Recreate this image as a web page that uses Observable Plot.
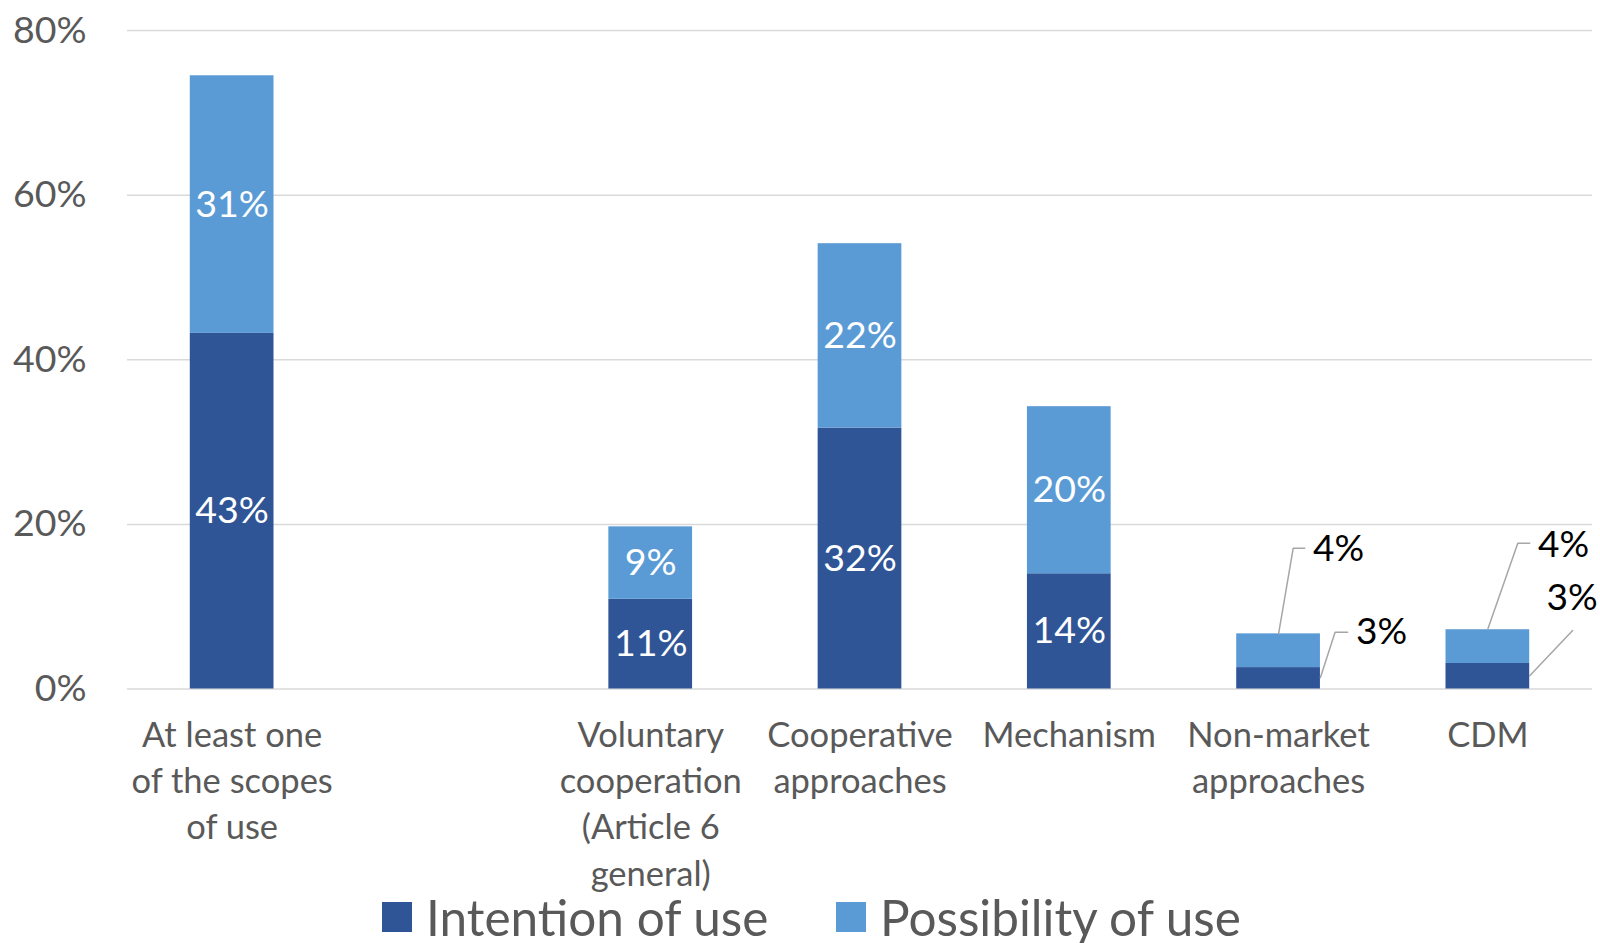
<!DOCTYPE html>
<html><head><meta charset="utf-8">
<script src="https://cdn.jsdelivr.net/npm/d3@7"></script>
<script src="https://cdn.jsdelivr.net/npm/@observablehq/plot@0.6"></script>
<style>
html,body{margin:0;padding:0;background:#fff;}
#wrap{position:relative;width:1600px;height:943px;overflow:hidden;background:#fff;}
#wrap svg{position:absolute;left:0;top:0;}
.item{position:absolute;top:896px;display:flex;align-items:center;white-space:nowrap;font-family:Lato,sans-serif;font-size:49.5px;color:#595959;line-height:42px;}
.sw{width:30px;height:30px;margin-right:14px;flex:none;}
</style></head><body><div id="wrap"></div>
<script>
const categories = ["At least one\nof the scopes\nof use", "", "Voluntary\ncooperation\n(Article 6\ngeneral)", "Cooperative\napproaches", "Mechanism", "Non-market\napproaches", "CDM"];
const seriesNames = ["Intention of use", "Possibility of use"];
const seriesColors = ["#2F5597", "#5B9BD5"];
const intention = [43.2, null, 10.9, 31.7, 14.0, 2.6, 3.1];
const possibility = [31.3, null, 8.8, 22.4, 20.3, 4.1, 4.1];
const intentionLabels = ["43%", null, "11%", "32%", "14%", "3%", "3%"];
const possibilityLabels = ["31%", null, "9%", "22%", "20%", "4%", "4%"];
const labelInside = [true, false, true, true, true, false, false];
const yTicks = [0, 20, 40, 60, 80];

// callouts for the small bars (data coordinates: x = category index, y = percent)
const calloutLines = [
  {id: "nm-p", pts: [[5, 6.7], [5.07, 17.1], [5.125, 17.1]]},
  {id: "nm-i", pts: [[5.2, 1.4], [5.27, 6.9], [5.33, 6.9]]},
  {id: "cdm-p", pts: [[6, 7.3], [6.143, 17.7], [6.2, 17.7]]},
  {id: "cdm-i", pts: [[6.2, 1.6], [6.405, 7.1]]}
];
const calloutLabels = [
  {x: 5.165, y: 17.0, text: possibilityLabels[5]},
  {x: 5.37, y: 6.9, text: intentionLabels[5]},
  {x: 6.24, y: 17.5, text: possibilityLabels[6]},
  {x: 6.28, y: 11.0, text: intentionLabels[6]}
];

const rows = [];
categories.forEach((c, i) => {
  if (intention[i] == null) return;
  rows.push({i, series: seriesNames[0], y1: 0, y2: intention[i], label: intentionLabels[i], inside: labelInside[i]});
  rows.push({i, series: seriesNames[1], y1: intention[i], y2: intention[i] + possibility[i], label: possibilityLabels[i], inside: labelInside[i]});
});
const linePts = calloutLines.flatMap(c => c.pts.map(([x, y]) => ({id: c.id, x, y})));
const tickIdx = categories.map((c, i) => i).filter(i => categories[i] !== "");

const chart = Plot.plot({
  width: 1600, height: 943,
  marginTop: 30, marginBottom: 254.5, marginLeft: 127, marginRight: 8,
  x: {domain: [-0.5, categories.length - 0.5]},
  y: {domain: [0, 80]},
  color: {domain: seriesNames, range: seriesColors},
  style: {fontFamily: "Lato, sans-serif", background: "white", overflow: "visible"},
  marks: [
    Plot.ruleY(yTicks, {stroke: "#d9d9d9", strokeWidth: 1.5}),
    Plot.rectY(rows, {x1: d => d.i - 0.2, x2: d => d.i + 0.2, y1: "y1", y2: "y2", fill: "series"}),
    Plot.text(rows.filter(d => d.inside), {x: "i", y: d => (d.y1 + d.y2) / 2, text: "label", fill: "white", fontSize: 37.5}),
    Plot.line(linePts, {x: "x", y: "y", z: "id", stroke: "#a6a6a6", strokeWidth: 1.5}),
    Plot.text(calloutLabels, {x: "x", y: "y", text: "text", textAnchor: "start", fill: "black", fontSize: 37}),
    Plot.axisY({ticks: yTicks, tickFormat: d => d + "%", tickSize: 0, tickPadding: 41, fontSize: 37.5, fill: "#595959", label: null}),
    Plot.axisX({ticks: tickIdx, tickFormat: i => categories[i], tickSize: 0, tickPadding: 25, fontSize: 34.5, lineHeight: 1.34, fill: "#595959", label: null})
  ]
});
const wrap = document.getElementById("wrap");
wrap.appendChild(chart);
const legendLeft = [382, 836];
seriesNames.forEach((s, k) => {
  const it = document.createElement("div");
  it.className = "item";
  it.style.left = legendLeft[k] + "px";
  it.innerHTML = `<span class="sw" style="background:${seriesColors[k]}"></span><span>${s}</span>`;
  wrap.appendChild(it);
});
</script>
</body></html>
